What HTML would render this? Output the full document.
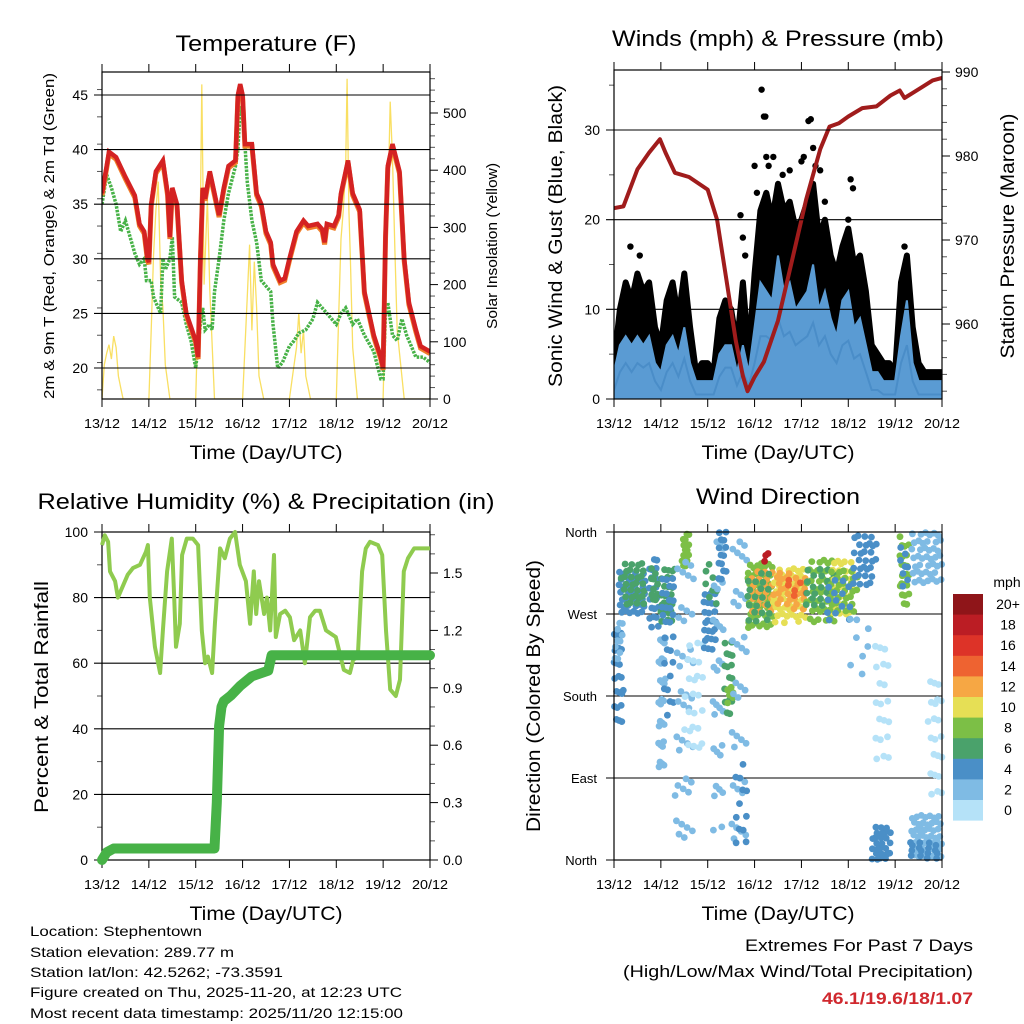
<!DOCTYPE html>
<html><head><meta charset="utf-8"><style>
html,body{margin:0;padding:0;background:#fff;}
svg{display:block;font-family:"Liberation Sans",sans-serif;}
</style></head><body>
<svg id="root" width="1024" height="1024" viewBox="0 0 1024 1024" xmlns="http://www.w3.org/2000/svg">
<g id="g-temp"></g>
<g id="g-wind"></g>
<g id="g-rh"></g>
<g id="g-dir"></g>
<g font-size="14" fill="#000">
<text x="30" y="936" textLength="172" lengthAdjust="spacingAndGlyphs">Location: Stephentown</text>
<text x="30" y="957" textLength="204" lengthAdjust="spacingAndGlyphs">Station elevation: 289.77 m</text>
<text x="30" y="977" textLength="253" lengthAdjust="spacingAndGlyphs">Station lat/lon: 42.5262; -73.3591</text>
<text x="30" y="997" textLength="372" lengthAdjust="spacingAndGlyphs">Figure created on Thu, 2025-11-20, at 12:23 UTC</text>
<text x="30" y="1018" textLength="373" lengthAdjust="spacingAndGlyphs">Most recent data timestamp: 2025/11/20 12:15:00</text>
</g>
<g font-size="17">
<text x="745" y="951" textLength="228" lengthAdjust="spacingAndGlyphs">Extremes For Past 7 Days</text>
<text x="623" y="977" textLength="350" lengthAdjust="spacingAndGlyphs">(High/Low/Max Wind/Total Precipitation)</text>
<text x="822" y="1004" textLength="151" lengthAdjust="spacingAndGlyphs" fill="#d0282e" font-weight="bold">46.1/19.6/18/1.07</text>
</g>
</svg>
<script>
// ---------------- data ----------------
const dayLabels = ["13/12","14/12","15/12","16/12","17/12","18/12","19/12","20/12"];
// Temperature (F)
const tempDays = [0,0.1,0.15,0.3,0.5,0.7,0.8,0.9,0.97,1.0,1.05,1.15,1.3,1.4,1.45,1.5,1.6,1.7,1.8,2.0,2.05,2.1,2.15,2.2,2.3,2.4,2.5,2.6,2.7,2.85,2.9,2.95,3.0,3.05,3.2,3.3,3.4,3.5,3.6,3.65,3.8,3.9,4.0,4.15,4.3,4.4,4.6,4.7,4.75,4.8,4.95,5.05,5.1,5.25,5.35,5.5,5.6,5.8,5.95,6.0,6.05,6.1,6.2,6.35,6.45,6.55,6.7,6.8,7.0];
const tempRed  = [36,38.5,39.8,39.3,37.5,35.8,33.2,32.5,30,29.7,35,38,39,36,32,36.5,35,28,25,22.5,21,30,36.5,35.5,38,36,34,36.5,38.5,39,45,46,45,40.5,40.5,36,35,32.5,31.5,29.5,28,28.2,30,32.5,33.5,33,33.2,32.7,31.5,33.2,33,34,36,39,36,34.5,27,23,21,20,32,38.5,40.5,38,30,26,23.5,22,21.5];
const dewDays = [0,0.1,0.2,0.3,0.4,0.5,0.6,0.7,0.8,0.9,0.95,1.05,1.1,1.25,1.3,1.35,1.45,1.5,1.55,1.7,1.8,1.9,2.0,2.1,2.15,2.2,2.3,2.35,2.4,2.5,2.6,2.7,2.85,2.9,2.95,3.0,3.05,3.1,3.2,3.3,3.4,3.5,3.6,3.65,3.7,3.75,3.85,4.0,4.1,4.2,4.35,4.5,4.6,4.8,4.9,5.0,5.1,5.2,5.35,5.45,5.6,5.8,5.95,6.0,6.05,6.1,6.2,6.3,6.4,6.5,6.6,6.7,6.85,7.0];
const dewGreen = [35,37.7,36.5,35,32.5,33.5,32,30.5,29.5,30,28,28,26.5,25,30,29,30,32,26.5,26,24,22.5,20,24,25.5,23.5,24,23.5,27,30,33.5,36,38.5,40,44,43,40.5,37,33.5,31.5,28,27.5,27,24,22,20,20.5,22,22.5,23.2,23.5,24.5,26,25,24.5,24,25,25.5,24,24.5,23,21.5,19,19,25,26,23,22.5,24.5,23,22,21,21,20.5];
// Solar insolation (W/m2)
const solarDays = [0,0.05,0.1,0.15,0.2,0.25,0.3,0.35,0.4,0.45, 1.0,1.05,1.1,1.15,1.2,1.25,1.3,1.35,1.45, 2.0,2.05,2.1,2.13,2.18,2.25,2.3,2.4, 3.0,3.1,3.15,3.2,3.25,3.3,3.35,3.45, 4.0,4.1,4.15,4.2,4.25,4.3,4.35,4.45, 5.0,5.05,5.1,5.15,5.2,5.23,5.27,5.3,5.35,5.45, 6.0,6.05,6.1,6.15,6.2,6.25,6.3,6.45, 7.0];
const solarVals = [0,60,80,95,70,110,90,40,20,0, 0,120,250,330,380,210,160,60,0, 0,150,330,550,200,350,190,0, 0,180,270,120,240,160,40,0, 0,60,90,150,80,120,40,0, 0,140,280,330,410,560,330,250,90,0, 0,180,330,520,420,260,120,0, 0];
// Winds (mph), sampled every 0.125 day
const windDays = [0,0.125,0.25,0.375,0.5,0.625,0.75,0.875,1.0,1.125,1.25,1.375,1.5,1.625,1.75,1.875,2.0,2.125,2.25,2.375,2.5,2.625,2.75,2.875,3.0,3.125,3.25,3.375,3.5,3.625,3.75,3.875,4.0,4.125,4.25,4.375,4.5,4.625,4.75,4.875,5.0,5.125,5.25,5.375,5.5,5.625,5.75,5.875,6.0,6.125,6.25,6.375,6.5,6.625,6.75,6.875,7.0];
const gustHigh = [4,10,13,11,14,12,13,8,6,11,13,9,14,8,3,4,4,3,9,11,10,6,13,5,14,21,23,20,24,21,22,19,20,22,24,18,20,16,14,17,19,15,16,12,6,5,4,4,3,13,16,8,4,3,3,3,3];
const gustLow  = [0,3,4,3,5,4,4,2,1,3,4,2,4,2,0,0,0,0,2,3,3,1,2,1,2,6,8,7,10,8,9,7,8,8,10,7,9,6,5,6,6,4,4,3,1,1,0.5,0.5,0.3,3,5,1,0.3,0.3,0.3,0.3,0.3];
const windHigh = [3,6,7,6,7,6,7,4,3,6,7,5,8,4,2,2,2,2,5,6,6,3,6,3,8,13,12,11,16,12,13,10,11,12,15,10,12,9,7,11,12,8,9,6,3,3,2,2,2,7,11,4,2,2,2,2,2];
const windMean = [1,3,4,3,4,3.5,4,2,1,3,4,2.5,4.5,2,0.5,0.5,0.5,0.5,2.5,3.5,3.5,1.5,3,1.5,4,7,7,6.5,9,7,7.5,6,6.5,7,8.5,6,7,5,4,6,6.5,4.5,5,3,1,1,0.5,0.5,0.5,4,6,2,0.5,0.5,0.5,0.5,0.5];
const gustOutDays = [3.15,3.2,3.23,3.25,4.15,4.2,2.7,2.75,3.0,4.3,5.05,5.1,3.4,3.6,3.75,4.05,4.4,4.5,2.8,3.05,3.3,4.0,4.25,5.0,6.2,0.35,0.55];
const gustOutVals = [34.5,31.5,31.5,27,31,31.2,20.5,18,26,26,24.5,23.5,27,25,25.5,27,25.5,22,16,23,26,26.5,28,20,17,17,16];
// Pressure (mb)
const presDays = [0,0.2,0.5,0.75,0.98,1.1,1.3,1.6,2.0,2.2,2.4,2.6,2.75,2.85,3.0,3.2,3.5,3.8,4.1,4.4,4.6,4.8,5.0,5.3,5.6,5.9,6.1,6.2,6.4,6.6,6.8,7.0];
const presVals = [973.8,974,978.4,980.4,982,980.4,978,977.5,976,972.4,965.2,958,953.8,952,953.7,955.5,960.4,967.6,974.8,980.8,983.5,983.9,984.7,985.7,985.9,987.2,987.8,986.9,987.6,988.3,989,989.3];
// Relative humidity (%)
const rhDays = [0,0.06,0.13,0.17,0.28,0.34,0.43,0.55,0.66,0.81,0.94,0.98,1.02,1.13,1.24,1.3,1.39,1.49,1.54,1.58,1.66,1.71,1.81,1.94,2.05,2.13,2.2,2.26,2.35,2.41,2.52,2.62,2.73,2.84,2.94,3.07,3.16,3.24,3.29,3.35,3.46,3.52,3.59,3.67,3.71,3.8,3.91,4.01,4.1,4.23,4.33,4.44,4.55,4.65,4.78,4.99,5.16,5.29,5.36,5.46,5.55,5.63,5.72,5.89,5.98,6.06,6.15,6.27,6.36,6.44,6.53,6.66,6.79,7];
const rhVals = [96,99,97,88,85,80,83,87,89,90,94,96,80,65,57,70,88,98,80,65,72,93,98,98,96,70,60,62,57,72,95,92,98,100,90,85,72,88,75,85,75,80,70,93,68,75,76,74,67,70,60,74,76,76,70,68,58,57,61,62,88,95,97,96,93,70,52,50,55,88,92,95,95,95];
// Precipitation (in, cumulative)
const prDays = [0,0.1,0.25,2.4,2.45,2.5,2.55,2.6,2.75,2.95,3.2,3.55,3.62,7.0];
const prVals = [0,0.04,0.06,0.06,0.3,0.7,0.8,0.83,0.86,0.91,0.96,0.99,1.07,1.07];
// Wind direction clusters: [dayStart, dayEnd, degLow, degHigh, speed(mph), count]
const dirClusters = [
 [0.1,0.7,270,320,4,40],[0.15,0.65,280,330,6,30],[0.0,0.2,150,260,3,24],[0.0,0.2,220,265,2,10],
 [0.75,0.95,255,330,4,22],[0.78,0.95,280,320,6,10],[1.0,1.3,255,320,6,26],[1.0,1.3,255,310,4,16],[0.95,1.1,90,250,2,28],[1.05,1.3,150,250,4,12],
 [1.45,1.6,320,360,7,14],[1.3,1.7,20,350,1,40],[1.5,1.9,120,250,0,24],
 [1.9,2.2,230,300,4,26],[1.9,2.2,280,330,6,8],[2.1,2.35,30,350,1,30],[2.2,2.4,300,360,3,14],
 [2.35,2.55,150,240,5,18],[2.4,2.55,170,190,7,6],[2.5,2.85,0,360,2,36],[2.55,2.85,10,110,4,12],
 [2.85,3.4,255,330,8,55],[2.85,3.4,270,320,12,22],[2.85,3.4,260,320,6,20],[3.2,3.3,325,340,17,3],
 [3.4,4.1,260,320,9,55],[3.4,4.1,275,315,11,30],[3.6,4.1,290,310,14,6],
 [4.1,4.7,255,330,7,40],[4.1,4.7,275,320,5,20],[4.6,5.1,265,330,10,30],[4.6,5.2,270,320,8,30],[4.5,5.1,260,310,4,14],
 [5.1,5.6,300,360,3,30],[5.0,5.5,200,270,1,8],[5.5,5.9,0,40,3,26],[5.55,5.9,110,250,0,20],
 [6.1,6.3,280,355,8,22],[6.1,6.3,300,350,4,8],[6.35,7.0,300,360,1,44],[6.35,7.0,0,50,2,50],[6.7,7.0,60,200,0,22],[6.3,7.0,0,20,4,16]
];
const speedBins = ["0","2","4","6","8","10","12","14","16","18","20+"];
const speedColors = ["#b5e2f8","#7fbbe4","#4a8fc7","#4aa26b","#7cbf46","#e6df55","#f6a744","#ee6331","#dd3328","#bb1d24","#8f1519"];

// ---------------- helpers ----------------
const NS="http://www.w3.org/2000/svg";
function mk(tag, attrs, parent){const e=document.createElementNS(NS,tag);for(const k in attrs)e.setAttribute(k,attrs[k]);parent.appendChild(e);return e;}
function txt(parent,x,y,s,size,anchor,extra){const t=mk("text",Object.assign({x:x,y:y,"font-size":size,"text-anchor":anchor||"start"},extra||{}),parent);t.textContent=s;return t;}
function linScale(d0,d1,r0,r1){return v=>r0+(v-d0)*(r1-r0)/(d1-d0);}
function pathOf(xs,ys,sx,sy){return xs.map((d,i)=>(i?"L":"M")+sx(d).toFixed(1)+","+sy(ys[i]).toFixed(1)).join("");}

function frame(g,X0,X1,Y0,Y1,cfg){
  const sx=linScale(0,7,X0,X1);
  cfg.leftTicks.forEach(v=>{const y=cfg.syL(v);
    const l=mk("line",{x1:X0-8,x2:X1,y1:y,y2:y,stroke:"#000","stroke-width":1.1},g);
    
    
    const t=txt(g,X0-14,y+5,cfg.leftFmt(v),14,"end");
    
    
  });
  (cfg.leftMinor||[]).forEach(v=>{const y=cfg.syL(v);mk("line",{x1:X0-5,x2:X0,y1:y,y2:y,stroke:"#555"},g);});
  if(cfg.rightTicks){cfg.rightTicks.forEach(v=>{const y=cfg.syR(v);
    mk("line",{x1:X1,x2:X1+8,y1:y,y2:y,stroke:"#000"},g);
    const t=txt(g,X1+13,y+5,cfg.rightFmt(v),14,"start");
    
    
  });
  (cfg.rightMinor||[]).forEach(v=>{const y=cfg.syR(v);mk("line",{x1:X1,x2:X1+5,y1:y,y2:y,stroke:"#555"},g);});}
  const r=mk("rect",{x:X0,y:Y0,width:X1-X0,height:Y1-Y0,fill:"none",stroke:"#000","stroke-width":1.2},g);
  
  
  dayLabels.forEach((s,i)=>{const x=sx(i);
    mk("line",{x1:x,x2:x,y1:Y1,y2:Y1+8,stroke:"#000"},g);
    mk("line",{x1:x,x2:x,y1:Y0,y2:Y0-8,stroke:"#000"},g);
    const t=txt(g,x,Y1+29,s,13,"middle",{textLength:36,lengthAdjust:"spacingAndGlyphs"});
    
    
  });
  const xt=txt(g,(X0+X1)/2,Y1+60,"Time (Day/UTC)",19,"middle",{textLength:153,lengthAdjust:"spacingAndGlyphs"});
  
  
  return sx;
}
function title(g,x,y,s,w){const t=txt(g,x,y,s,22,"middle",{textLength:w,lengthAdjust:"spacingAndGlyphs"});
  
  }
function vtitle(g,x,y,s,size,w,name){const t=txt(g,0,0,s,size,"middle",{transform:"translate("+x+","+y+") rotate(-90)",textLength:w,lengthAdjust:"spacingAndGlyphs"});
  
  }
function range(a,b,s){const r=[];for(let v=a;v<=b+1e-9;v+=s)r.push(+v.toFixed(4));return r;}

// ---------------- Panel 1: temperature ----------------
(function(){
  const g=document.getElementById("g-temp");
  const X0=102,X1=430,Y0=72,Y1=399;
  const syL=linScale(20,45,368,95), syR=linScale(0,500,399,113);
  const sx=linScale(0,7,X0,X1);
  const clip=mk("clipPath",{id:"c1"},g);mk("rect",{x:X0,y:Y0,width:X1-X0,height:Y1-Y0},clip);
  const pg=mk("g",{"clip-path":"url(#c1)"},g);
  const sol=mk("path",{d:pathOf(solarDays,solarVals,sx,syR),fill:"none",stroke:"#f9df62","stroke-width":1.3},pg);
  
  
  const dew=mk("path",{d:pathOf(dewDays,dewGreen,sx,syL),fill:"none",stroke:"#47b247","stroke-width":3.5,"stroke-dasharray":"2.5 1.2"},pg);
  
  
  const or=mk("path",{d:pathOf(tempDays,tempRed,sx,syL),fill:"none",stroke:"#f07f2a","stroke-width":5,transform:"translate(0,2)"},pg);
  
  
  const rd=mk("path",{d:pathOf(tempDays,tempRed,sx,syL),fill:"none",stroke:"#d42222","stroke-width":4.5},pg);
  
  
  frame(g,X0,X1,Y0,Y1,{syL,leftTicks:[20,25,30,35,40,45],leftFmt:v=>String(v),leftMinor:range(18,47,2.5).filter(v=>v%5),
    syR,rightTicks:[0,100,200,300,400,500],rightFmt:v=>String(v),rightMinor:range(20,560,20).filter(v=>v%100)});
  title(g,266,51,"Temperature (F)",181);
  vtitle(g,54,236,"2m & 9m T (Red, Orange) & 2m Td (Green)",15,326,"left-axis-title");
  vtitle(g,497,246,"Solar Insolation (Yellow)",15,166,"right-axis-title");
})();

// ---------------- Panel 2: winds & pressure ----------------
(function(){
  const g=document.getElementById("g-wind");
  const X0=614,X1=942,Y0=70,Y1=399;
  const syL=linScale(0,30,399,130), syR=linScale(960,990,324,72);
  const sx=linScale(0,7,X0,X1);
  const clip=mk("clipPath",{id:"c2"},g);mk("rect",{x:X0,y:Y0,width:X1-X0,height:Y1-Y0},clip);
  const pg=mk("g",{"clip-path":"url(#c2)"},g);
  const band=pathOf(windDays,gustHigh,sx,syL)+pathOf(windDays.slice().reverse(),gustLow.slice().reverse(),sx,syL).replace("M","L")+"Z";
  const gb=mk("path",{d:band,fill:"#000",stroke:"#000","stroke-width":6,"stroke-linejoin":"round"},pg);
  
  
  gustOutDays.forEach((d,i)=>{const c=mk("circle",{cx:sx(d),cy:syL(gustOutVals[i]),r:3.2,fill:"#000"},pg);
    
    });
  const wb=pathOf(windDays,windHigh,sx,syL)+"L"+sx(7)+","+syL(0)+"L"+sx(0)+","+syL(0)+"Z";
  const wa=mk("path",{d:wb,fill:"#5a9bd3",stroke:"#5a9bd3","stroke-width":2},pg);
  
  
  const wl=mk("path",{d:pathOf(windDays,windMean,sx,syL),fill:"none",stroke:"#4a8dc8","stroke-width":2},pg);
  
  
  const pl=mk("path",{d:pathOf(presDays,presVals,sx,syR),fill:"none",stroke:"#a01c1c","stroke-width":4,"stroke-linejoin":"round"},pg);
  
  
  frame(g,X0,X1,Y0,Y1,{syL,leftTicks:[0,10,20,30],leftFmt:v=>String(v),leftMinor:range(5,35,5).filter(v=>v%10),
    syR,rightTicks:[960,970,980,990],rightFmt:v=>String(v),rightMinor:range(952,988,2).filter(v=>v%10)});
  title(g,778,46,"Winds (mph) & Pressure (mb)",332);
  vtitle(g,562,236,"Sonic Wind & Gust (Blue, Black)",19,302,"left-axis-title");
  vtitle(g,1014,236,"Station Pressure (Maroon)",19,245,"right-axis-title");
})();

// ---------------- Panel 3: RH & precip ----------------
(function(){
  const g=document.getElementById("g-rh");
  const X0=102,X1=430,Y0=532,Y1=860;
  const syL=linScale(0,100,860,532), syR=linScale(0,1.5,860,573);
  const sx=linScale(0,7,X0,X1);
  const clip=mk("clipPath",{id:"c3"},g);mk("rect",{x:X0-8,y:Y0-8,width:X1-X0+16,height:Y1-Y0+16},clip);
  frame(g,X0,X1,Y0,Y1,{syL,leftTicks:[0,20,40,60,80,100],leftFmt:v=>String(v),leftMinor:range(10,90,20),
    syR,rightTicks:[0,0.3,0.6,0.9,1.2,1.5],rightFmt:v=>v.toFixed(1),rightMinor:range(0.1,1.7,0.1).filter(v=>Math.round(v*10)%3)});
  const pg=mk("g",{"clip-path":"url(#c3)"},g);
  const rh=mk("path",{d:pathOf(rhDays,rhVals,sx,syL),fill:"none",stroke:"#8fcb4f","stroke-width":4,"stroke-linejoin":"round"},pg);
  
  
  const pr=mk("path",{d:pathOf(prDays,prVals,sx,syR),fill:"none",stroke:"#47b247","stroke-width":10,"stroke-linecap":"round","stroke-linejoin":"round"},pg);
  
  
  title(g,266,509,"Relative Humidity (%) & Precipitation (in)",457);
  vtitle(g,48,697,"Percent & Total Rainfall",19,232,"left-axis-title");
})();

// ---------------- Panel 4: wind direction ----------------
(function(){
  const g=document.getElementById("g-dir");
  const X0=614,X1=942,Y0=532,Y1=860;
  const sy=linScale(0,360,860,532);
  const sx=linScale(0,7,X0,X1);
  ["North","East","South","West","North"].forEach((s,i)=>{const y=sy(i*90);
    const l=mk("line",{x1:X0-8,x2:X1,y1:y,y2:y,stroke:"#000","stroke-width":1.1},g);
    
    
    const t=txt(g,X0-17,y+5,s,13,"end");
    
    
  });
  const pg=mk("g",{},g);
  dirClusters.forEach((c,ci)=>{
    const [d0,d1,a0,a1,sp,n]=c;
    const col=speedColors[Math.min(10,Math.round(sp/2))];
    for(let k=0;k<n;k++){
      const fx=((0.5+ci*0.37+k*0.7548777)%1), fy=((0.5+ci*0.13+k*0.5698403)%1);
      const dot=mk("circle",{cx:sx(d0+(d1-d0)*fx).toFixed(1),cy:sy(a0+(a1-a0)*fy).toFixed(1),r:3.4,fill:col},pg);
      
      
    }
  });
  const r=mk("rect",{x:X0,y:Y0,width:X1-X0,height:Y1-Y0,fill:"none",stroke:"#000","stroke-width":1.2},g);
  
  
  dayLabels.forEach((s,i)=>{const x=sx(i);
    mk("line",{x1:x,x2:x,y1:Y1,y2:Y1+8,stroke:"#000"},g);
    mk("line",{x1:x,x2:x,y1:Y0,y2:Y0-8,stroke:"#000"},g);
    const t=txt(g,x,Y1+29,s,13,"middle",{textLength:36,lengthAdjust:"spacingAndGlyphs"});
    
    
  });
  const xt=txt(g,778,Y1+60,"Time (Day/UTC)",19,"middle",{textLength:153,lengthAdjust:"spacingAndGlyphs"});
  
  
  title(g,778,504,"Wind Direction",164);
  vtitle(g,540,696,"Direction (Colored By Speed)",19,272,"left-axis-title");
  const lg=mk("g",{},g);
  
  
  const lt=txt(lg,1007,587,"mph",14,"middle");
  
  
  const top=594,h=20.6;
  for(let i=10;i>=1;i--){
    const j=10-i;
    const rc=mk("rect",{x:953,y:(top+j*h).toFixed(1),width:30,height:h+0.5,fill:speedColors[i]},lg);
    
    
    const t=txt(lg,1008,top+j*h+15,speedBins[i],14,"middle");
    
    
  }
  const rc=mk("rect",{x:953,y:(top+10*h).toFixed(1),width:30,height:h,fill:speedColors[0]},lg);
  
  
  const t0=txt(lg,1008,top+10*h+15,speedBins[0],14,"middle");
  
  
})();
</script>
</body></html>
